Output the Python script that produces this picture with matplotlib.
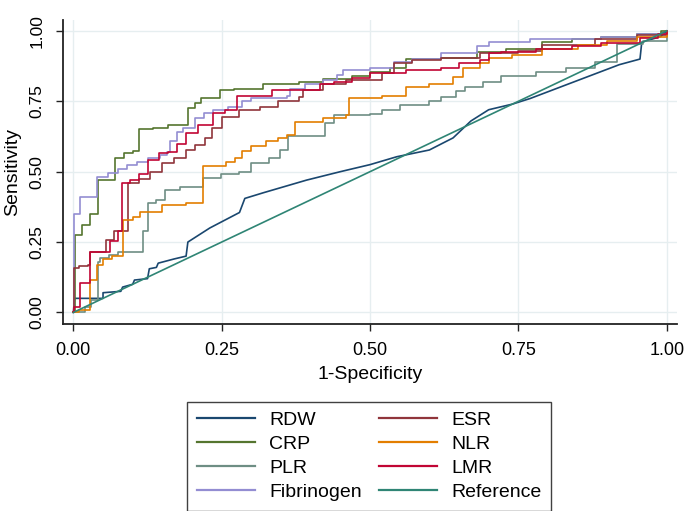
import numpy as np
import matplotlib
matplotlib.use("Agg")
import matplotlib.pyplot as plt

plt.rcParams['font.family'] = ['Liberation Sans', 'DejaVu Sans']

# ROC curves: (1-specificity, sensitivity) step breakpoints
rdw_x = [0, 0.002, 0.05, 0.05, 0.08, 0.083, 0.10, 0.103, 0.125, 0.128, 0.14, 0.143, 0.17, 0.19, 0.193,
         0.23, 0.28, 0.289, 0.32, 0.393, 0.45, 0.50, 0.545, 0.60, 0.64, 0.67, 0.70, 0.74, 0.77, 0.82,
         0.87, 0.92, 0.955, 0.958, 0.99, 1.0]
rdw_y = [0, 0.05, 0.05, 0.07, 0.075, 0.09, 0.10, 0.115, 0.12, 0.155, 0.16, 0.175, 0.19, 0.20, 0.25,
         0.30, 0.355, 0.405, 0.425, 0.47, 0.50, 0.525, 0.553, 0.577, 0.62, 0.68, 0.72, 0.74, 0.76, 0.80,
         0.84, 0.88, 0.90, 0.96, 0.98, 1.0]

crp_x = [0, 0.003, 0.015, 0.028, 0.041, 0.070, 0.085, 0.100, 0.110, 0.135, 0.160, 0.193, 0.205, 0.215,
         0.247, 0.27, 0.32, 0.38, 0.42, 0.47, 0.50, 0.533, 0.56, 0.62, 0.68, 0.73, 0.79, 0.84, 0.89,
         0.95, 0.99, 1.0]
crp_y = [0, 0.275, 0.31, 0.35, 0.47, 0.55, 0.565, 0.575, 0.65, 0.655, 0.665, 0.725, 0.745, 0.76,
         0.79, 0.795, 0.81, 0.82, 0.83, 0.84, 0.855, 0.87, 0.90, 0.905, 0.925, 0.935, 0.96, 0.97, 0.98,
         0.99, 1.0, 1.0]

plr_x = [0, 0.02, 0.03, 0.041, 0.045, 0.06, 0.075, 0.118, 0.125, 0.14, 0.155, 0.18, 0.218, 0.248,
         0.28, 0.30, 0.33, 0.348, 0.362, 0.424, 0.44, 0.50, 0.52, 0.55, 0.60, 0.62, 0.645, 0.66, 0.69,
         0.72, 0.78, 0.83, 0.88, 0.916, 0.96, 1.0]
plr_y = [0, 0.02, 0.045, 0.18, 0.195, 0.205, 0.215, 0.29, 0.39, 0.40, 0.435, 0.445, 0.478, 0.49,
         0.50, 0.53, 0.55, 0.577, 0.625, 0.673, 0.70, 0.705, 0.72, 0.737, 0.75, 0.766, 0.785, 0.80, 0.82,
         0.84, 0.855, 0.87, 0.89, 0.955, 0.965, 1.0]

fib_x = [0, 0.001, 0.012, 0.040, 0.058, 0.075, 0.09, 0.107, 0.125, 0.146, 0.158, 0.163, 0.174, 0.185,
         0.205, 0.22, 0.235, 0.26, 0.285, 0.30, 0.36, 0.365, 0.39, 0.42, 0.445, 0.455, 0.50, 0.54, 0.57,
         0.62, 0.68, 0.70, 0.77, 0.89, 0.95, 1.0]
fib_y = [0, 0.35, 0.41, 0.48, 0.495, 0.51, 0.525, 0.535, 0.55, 0.56, 0.57, 0.61, 0.64, 0.655,
         0.69, 0.71, 0.72, 0.73, 0.75, 0.76, 0.77, 0.795, 0.81, 0.825, 0.845, 0.86, 0.87, 0.89, 0.90,
         0.92, 0.945, 0.96, 0.97, 0.98, 0.99, 1.0]

esr_x = [0, 0.001, 0.01, 0.025, 0.028, 0.055, 0.068, 0.092, 0.11, 0.13, 0.15, 0.17, 0.19, 0.205,
         0.222, 0.233, 0.25, 0.28, 0.315, 0.345, 0.38, 0.387, 0.42, 0.46, 0.52, 0.54, 0.57, 0.62, 0.685,
         0.75, 0.79, 0.88, 0.95, 1.0]
esr_y = [0, 0.158, 0.165, 0.17, 0.215, 0.257, 0.29, 0.46, 0.475, 0.50, 0.53, 0.55, 0.577, 0.595,
         0.62, 0.655, 0.695, 0.72, 0.73, 0.75, 0.765, 0.79, 0.81, 0.825, 0.85, 0.885, 0.897, 0.905, 0.92,
         0.93, 0.95, 0.97, 0.985, 1.0]

nlr_x = [0, 0.01, 0.028, 0.04, 0.05, 0.065, 0.083, 0.10, 0.113, 0.15, 0.19, 0.218, 0.258, 0.272,
         0.285, 0.30, 0.325, 0.345, 0.36, 0.373, 0.42, 0.46, 0.465, 0.52, 0.56, 0.60, 0.64, 0.656, 0.685,
         0.70, 0.74, 0.79, 0.85, 0.90, 0.95, 1.0]
nlr_y = [0, 0.01, 0.115, 0.17, 0.19, 0.20, 0.33, 0.34, 0.355, 0.38, 0.39, 0.52, 0.535, 0.55,
         0.575, 0.59, 0.61, 0.62, 0.63, 0.675, 0.69, 0.70, 0.76, 0.77, 0.80, 0.81, 0.835, 0.87, 0.885,
         0.905, 0.915, 0.935, 0.95, 0.965, 0.98, 1.0]

lmr_x = [0, 0.001, 0.012, 0.028, 0.062, 0.075, 0.082, 0.095, 0.11, 0.125, 0.145, 0.16, 0.175, 0.19,
         0.21, 0.235, 0.255, 0.276, 0.335, 0.415, 0.44, 0.47, 0.50, 0.56, 0.62, 0.65, 0.685, 0.70, 0.72,
         0.78, 0.84, 0.89, 0.955, 0.985, 1.0]
lmr_y = [0, 0.02, 0.105, 0.215, 0.255, 0.29, 0.46, 0.47, 0.49, 0.54, 0.565, 0.57, 0.60, 0.637,
         0.665, 0.71, 0.72, 0.77, 0.79, 0.81, 0.82, 0.833, 0.85, 0.86, 0.87, 0.885, 0.897, 0.92, 0.925,
         0.935, 0.945, 0.957, 0.975, 0.99, 1.0]

ref_x = [0, 1]
ref_y = [0, 1]

fig = plt.figure(figsize=(6.85, 5.11), dpi=100)
ax = fig.add_axes([0.0915, 0.366, 0.8965, 0.595])

step_kw = dict(drawstyle='steps-post', lw=1.2)
ax.plot(rdw_x, rdw_y, color='#1a476f', lw=1.2, label='RDW')
ax.plot(crp_x, crp_y, color='#55752f', label='CRP', **step_kw)
ax.plot(plr_x, plr_y, color='#6e8e84', label='PLR', **step_kw)
ax.plot(fib_x, fib_y, color='#938dd2', label='Fibrinogen', **step_kw)
ax.plot(esr_x, esr_y, color='#90353b', label='ESR', **step_kw)
ax.plot(nlr_x, nlr_y, color='#e37e00', label='NLR', **step_kw)
ax.plot(lmr_x, lmr_y, color='#c10534', label='LMR', **step_kw)
ax.plot(ref_x, ref_y, color='#2f8575', lw=1.2, label='Reference')

ticks = [0, 0.25, 0.5, 0.75, 1.0]
ax.set_xlim(-0.018, 1.017)
ax.set_ylim(-0.041, 1.039)
ax.set_xticks(ticks)
ax.set_yticks(ticks)
ax.set_xticklabels(['%.2f' % t for t in ticks], fontsize=13)
ax.set_yticklabels(['%.2f' % t for t in ticks], fontsize=12.5, rotation=90, va='center')
ax.grid(True, color='#e6eef0', lw=1)
ax.set_axisbelow(True)
for s in ['top', 'right']:
    ax.spines[s].set_visible(False)
for s in ['left', 'bottom']:
    ax.spines[s].set_color('#222222')
    ax.spines[s].set_linewidth(1.3)
ax.tick_params(direction='out', length=5, width=1, color='#222222', pad=8)
ax.set_xlabel('1-Specificity', fontsize=14, labelpad=5)
ax.set_ylabel('Sensitivity', fontsize=14, labelpad=6)

handles, labels = ax.get_legend_handles_labels()
leg = fig.legend(handles, labels, ncol=2, loc='upper center', bbox_to_anchor=(0.539, 0.214),
                 fontsize=14, frameon=True, fancybox=False, edgecolor='#111111',
                 handlelength=3.0, handletextpad=0.7, columnspacing=0.9, labelspacing=0.33,
                 borderpad=0.5, borderaxespad=0)
leg.get_frame().set_linewidth(1.0)
for line in leg.get_lines():
    line.set_linewidth(1.6)

fig.savefig('out.png', dpi=100)
